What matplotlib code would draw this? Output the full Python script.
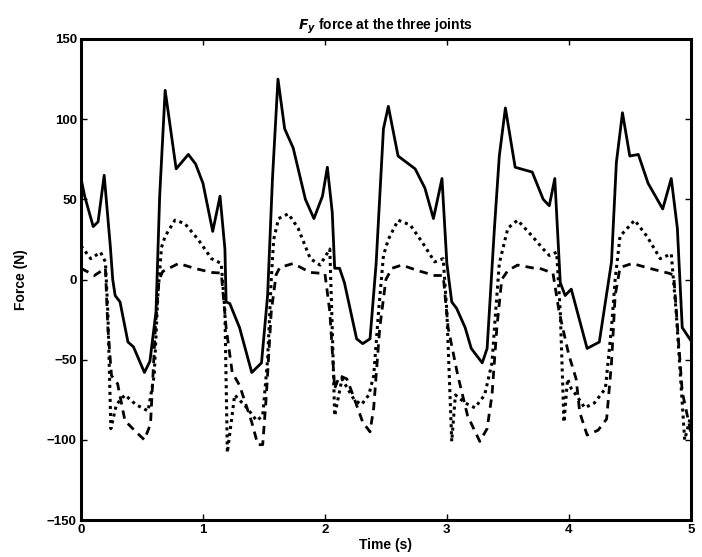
import matplotlib
matplotlib.use("Agg")
from matplotlib import pyplot as plt

# solid line
t_solid = [0.00, 0.03, 0.10, 0.14, 0.19, 0.24, 0.26, 0.28, 0.32, 0.385, 0.43, 0.52, 0.565, 0.615, 0.645,
           0.69, 0.78, 0.88, 0.94, 1.00, 1.08, 1.14, 1.18, 1.19, 1.22, 1.30, 1.40, 1.48, 1.53, 1.57,
           1.615, 1.67, 1.74, 1.84, 1.91, 1.98, 2.02, 2.06, 2.08, 2.12, 2.16, 2.26, 2.31, 2.37, 2.42,
           2.48, 2.52, 2.60, 2.74, 2.82, 2.89, 2.96, 3.00, 3.04, 3.08, 3.15, 3.20, 3.29, 3.33, 3.39,
           3.43, 3.48, 3.56, 3.70, 3.79, 3.84, 3.885, 3.93, 3.97, 4.02, 4.15, 4.25, 4.35, 4.39, 4.44,
           4.50, 4.57, 4.65, 4.77, 4.84, 4.89, 4.93, 5.00]
f_solid = [63, 52, 33, 36, 65, 21, 0, -10, -14, -39, -42, -58, -51, -20, 52,
           118, 69, 78, 72, 60, 30, 52, 19, -14, -15, -30, -58, -52, -10, 63,
           125, 94, 82, 50, 38, 52, 70, 42, 7, 7, -2, -37, -40, -37, 10,
           94, 108, 77, 69, 57, 38, 63, 10, -14, -18, -30, -43, -52, -43, 32,
           77, 107, 70, 67, 50, 46, 63, -2, -10, -6, -43, -39, 11, 73, 104,
           77, 78, 60, 44, 63, 32, -30, -38]

# dotted line
t_dot = [0.00, 0.08, 0.16, 0.20, 0.22, 0.245, 0.29, 0.36, 0.45, 0.55, 0.60, 0.63, 0.66, 0.69, 0.77,
         0.85, 0.96, 1.07, 1.15, 1.18, 1.20, 1.26, 1.36, 1.44, 1.49, 1.53, 1.56, 1.58, 1.62, 1.70,
         1.78, 1.88, 1.96, 2.04, 2.06, 2.08, 2.14, 2.24, 2.30, 2.36, 2.40, 2.44, 2.48, 2.52, 2.60,
         2.70, 2.80, 2.90, 2.97, 3.00, 3.04, 3.07, 3.15, 3.23, 3.31, 3.37, 3.40, 3.43, 3.50, 3.58,
         3.70, 3.79, 3.84, 3.90, 3.93, 3.96, 3.99, 4.02, 4.06, 4.13, 4.21, 4.30, 4.35, 4.38, 4.42,
         4.54, 4.64, 4.75, 4.84, 4.88, 4.95, 5.00]
f_dot = [21, 13, 17, 11, -20, -93, -78, -72, -78, -82, -60, -10, 20, 27, 37,
         35, 25, 13, 10, -20, -108, -72, -80, -88, -85, -50, 0, 25, 38, 41,
         32, 13, 9, 19, -30, -85, -62, -75, -78, -72, -60, -20, 15, 25, 37,
         34, 23, 11, 13, -20, -101, -72, -77, -80, -72, -52, -20, 10, 32, 37,
         27, 19, 15, 17, -20, -89, -62, -68, -72, -80, -77, -68, -30, 0, 27,
         37, 27, 13, 16, -20, -100, -85]

# dashed line
t_dash = [0.00, 0.11, 0.20, 0.22, 0.25, 0.30, 0.36, 0.45, 0.52, 0.57, 0.61, 0.64, 0.67, 0.80, 0.93,
          1.07, 1.15, 1.19, 1.24, 1.30, 1.40, 1.45, 1.49, 1.52, 1.56, 1.60, 1.63, 1.74, 1.88, 2.00,
          2.04, 2.08, 2.12, 2.18, 2.23, 2.31, 2.37, 2.40, 2.45, 2.50, 2.55, 2.63, 2.76, 2.90, 2.97,
          3.01, 3.09, 3.17, 3.27, 3.33, 3.37, 3.41, 3.45, 3.50, 3.58, 3.72, 3.76, 3.87, 3.92, 4.00,
          4.06, 4.09, 4.15, 4.24, 4.31, 4.35, 4.38, 4.42, 4.52, 4.66, 4.83, 4.86, 4.93, 5.00]
f_dash = [7, 2.5, 7, -30, -60, -65, -88, -95, -100, -90, -30, 0, 5, 10, 7,
          4.4, 4, -30, -58, -66, -89, -103, -103, -72, -20, 3, 7.5, 10, 4.4, 3.7,
          -20, -68, -60, -62, -72, -89, -95, -80, -30, 0, 7, 9, 5.6, 2.5, 2.5,
          -30, -60, -85, -101, -93, -72, -30, 0, 5.6, 9, 7, 7, 4, -20, -47,
          -62, -83, -97, -94, -87, -52, -10, 7.5, 10, 7, 3.7, 2.5, -70, -95]

plt.rcParams['font.family'] = ['Liberation Sans', 'DejaVu Sans']
plt.rcParams['font.weight'] = 'bold'

fig = plt.figure(figsize=(7.02, 5.57), dpi=100)
ax = fig.add_axes([0.1154, 0.0664, 0.8686, 0.8636])

ax.plot(t_solid, f_solid, color='k', lw=2.0, ls='-')
ax.plot(t_dot, f_dot, color='k', lw=2.2, ls=(0, (1, 1.3)))
ax.plot(t_dash, f_dash, color='k', lw=2.0, ls=(0, (3, 2.2)))

ax.set_xlim(0, 5)
ax.set_ylim(-150, 150)
ax.set_xticks([0, 1, 2, 3, 4, 5])
ax.set_yticks([-150, -100, -50, 0, 50, 100, 150])
ax.tick_params(direction='in', length=4, width=1, top=True, right=True, labelsize=9.5, pad=3)
for lab in ax.get_xticklabels() + ax.get_yticklabels():
    lab.set_fontweight('bold')
for s in ax.spines.values():
    s.set_linewidth(2.2)

ax.set_xlabel('Time (s)', fontsize=10, fontweight='bold', labelpad=1)
ax.set_ylabel('Force (N)', fontsize=10, fontweight='bold', labelpad=14)
ax.set_title(r'$\mathbf{\mathit{F}_{\mathit{y}}}$ force at the three joints', fontsize=10, fontweight='bold', pad=7)

fig.savefig('out.png', dpi=100)
